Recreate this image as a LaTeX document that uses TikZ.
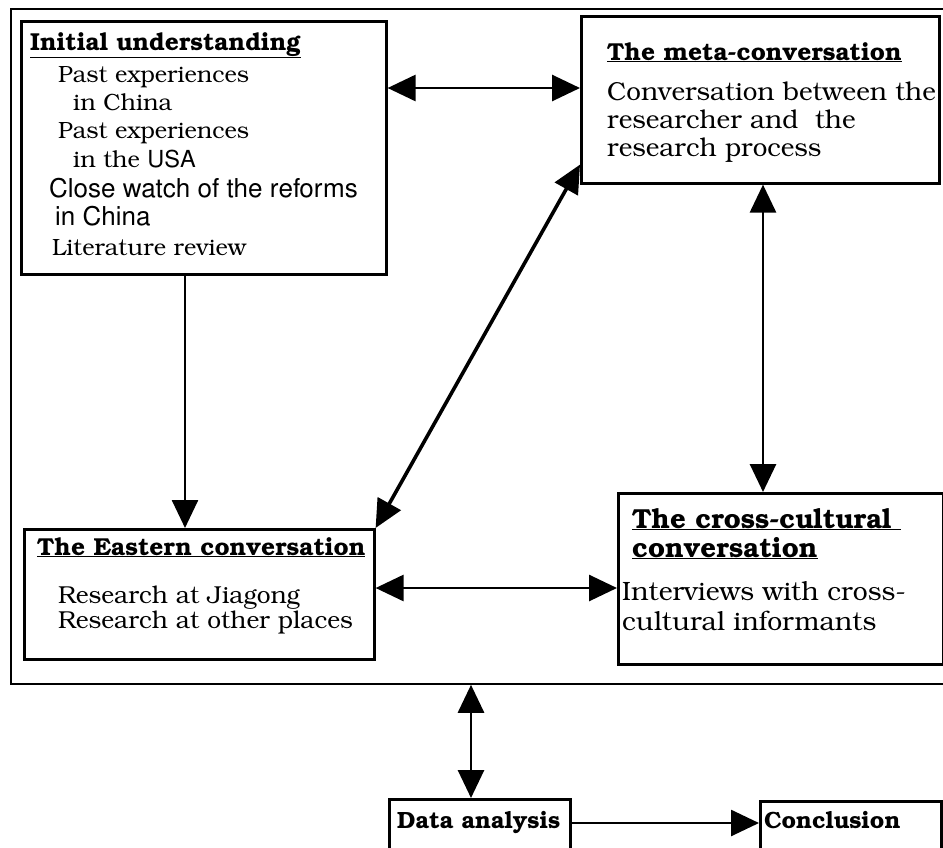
\documentclass[tikz,border=0pt]{standalone}
\usepackage[T1]{fontenc}
\usepackage{bookman}
\renewcommand\sfdefault{phv}
\usetikzlibrary{arrows.meta}
\tikzset{
  box/.style={draw, line width=2.6pt, anchor=north west, inner sep=0pt},
  outerbox/.style={draw, line width=1.8pt, anchor=north west, inner sep=0pt},
  txt/.style={anchor=base west, inner sep=0pt, font=\fontsize{#1}{28}\selectfont},
  txt/.default=24,
  sanstxt/.style={anchor=base west, inner sep=0pt, font=\fontsize{26}{28}\selectfont\sffamily},
  ttl/.style={anchor=base west, inner sep=0pt, font=\fontsize{#1}{28}\selectfont\bfseries},
  ttl/.default=24.5,
  tip/.tip={Triangle[length=28pt,width=26pt]},
  link/.style={line width=2.6pt, -tip},
  dlink/.style={line width=2.8pt, tip-tip},
}
\begin{document}
\begin{tikzpicture}[x=1pt,y=-1pt]
\useasboundingbox (0,0) rectangle (943,847);

% outer frame around the four conversations
\node[outerbox, minimum width=945pt, minimum height=675pt] (frame) at (10,8) {};

% boxes
\node[box, minimum width=365pt, minimum height=253pt] (init)  at (20,20)   {};
\node[box, minimum width=358pt, minimum height=167pt] (meta)  at (580,15)  {};
\node[box, minimum width=350pt, minimum height=130pt] (east)  at (23,528)  {};
\node[box, minimum width=325pt, minimum height=171pt] (cross) at (617,492) {};
\node[box, minimum width=181pt, minimum height=70pt]  (data)  at (388,798) {};
\node[box, minimum width=181pt, minimum height=70pt]  (concl) at (759,800) {};

% initial understanding
\node[ttl] (initT) at (30,50)  {\underline{Initial understanding}};
\node[txt=23.5] (i1) at (58,82)  {Past experiences};
\node[txt=23.5] (i2) at (73,110) {in China};
\node[txt=23.5] (i3) at (58,138) {Past experiences};
\node[txt=23.5] (i4) at (73,167) {in the {\sffamily USA}};
\node[sanstxt] (i5) at (49,197) {Close watch of the reforms};
\node[sanstxt] (i6) at (55,225) {in China};
\node[txt=23.5] (i7) at (52,255) {Literature review};

% meta-conversation
\node[ttl] (metaT) at (607,60) {\underline{The meta-conversation}};
\node[txt=26] (m1) at (607,100) {Conversation between the};
\node[txt=26] (m2) at (607,128) {researcher and\ \ the};
\node[txt=26] (m3) at (607,156) {research process};

% Eastern conversation
\node[ttl] (eastT) at (37,555) {\underline{The Eastern conversation}};
\node[txt=24.5] (e1) at (58,603) {Research at Jiagong};
\node[txt=24.5] (e2) at (58,628) {Research at other places};

% cross-cultural conversation
\node[ttl=27.5] (crossT1) at (632,528) {\underline{The cross-cultural\ }};
\node[ttl=27.5] (crossT2) at (632,557) {\underline{conversation}};
\node[txt=26.5] (c1) at (622,600) {Interviews with cross-};
\node[txt=26.5] (c2) at (622,630) {cultural informants};

% analysis and conclusion
\node[ttl=23.5] (dataT)  at (397,828) {Data analysis};
\node[ttl=23.5] (conclT) at (764,828) {Conclusion};

% connector levels
\coordinate (yIM) at (0,88);
\coordinate (xIE) at (185,0);
\coordinate (xMC) at (763,0);
\coordinate (yEC) at (0,588);
\coordinate (xFD) at (471,0);
\coordinate (yDC) at (0,823);

% connectors
\draw[dlink] (init.east |- yIM) -- (meta.west |- yIM);
\draw[link]  (init.south -| xIE) -- (east.north -| xIE);
\draw[dlink, line width=3.6pt] (east.north east) -- ([yshift=20pt]meta.south west);
\draw[dlink] (meta.south -| xMC) -- (cross.north -| xMC);
\draw[dlink] (east.east |- yEC) -- (cross.west |- yEC);
\draw[dlink] (frame.south -| xFD) -- (data.north -| xFD);
\draw[link]  (data.east |- yDC) -- (concl.west |- yDC);
\end{tikzpicture}
\end{document}
